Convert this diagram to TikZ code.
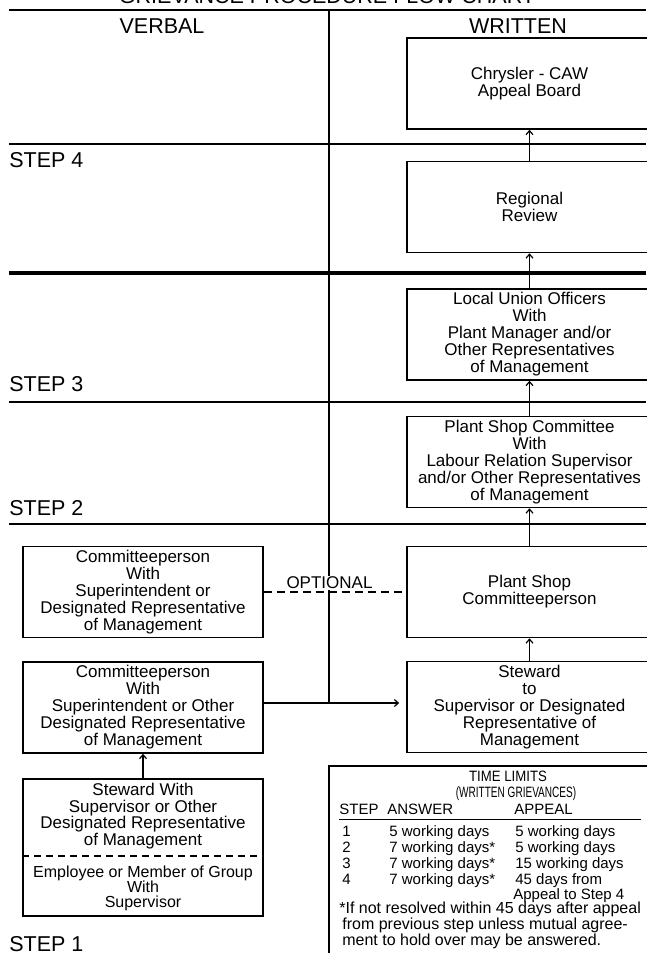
\documentclass[tikz,border=0pt]{standalone}
\usepackage{fontspec}
\setmainfont{Liberation Sans}
\usetikzlibrary{arrows.meta,positioning,calc}
\tikzset{every picture/.style={line width=0.75pt}}

\begin{document}
\begin{tikzpicture}[x=1pt, y=-1pt, >={Straight Barb[length=4pt,width=7pt]},
    box/.style={draw, line width=1.6pt, align=center, inner sep=0pt, minimum height=91pt, font=\fontsize{17}{17}\selectfont},
    rbox/.style={box, minimum width=245pt},
    lbox/.style={box, minimum width=240pt},
    rule/.style={line width=1.6pt},
    big/.style={font=\fontsize{21.5}{24}\selectfont, inner sep=0pt},
    small/.style={font=\fontsize{15}{16}\selectfont, inner sep=0pt, anchor=west, text height=11pt, text depth=3pt},
    up/.style={->, line width=1.2pt}]
    \useasboundingbox (0,0) rectangle (646,953);

    % title and columns
    \node[big, anchor=base] (title) at (327,4) {GRIEVANCE PROCEDURE FLOW CHART};
    \node[big, anchor=base] (verbal) at (162,33) {VERBAL};
    \node[big, anchor=base] (written) at (518,33) {WRITTEN};

    % step rules
    \foreach \y in {10,144,402,524} {
        \draw[rule] (9,\y) -- (646,\y);
    }
    \draw[line width=4pt] (9,273) -- (646,273);
    \foreach \s/\y in {4/167, 3/391, 2/515, 1/951} {
        \node[big, anchor=base west] (step\s) at (9,\y) {STEP \s};
    }

    % divider
    \coordinate (divtop) at (329,10);
    \coordinate (junction) at (329,703);
    \draw[rule] (divtop) -- (junction);

    % written side
    \node[rbox] (chrysler) at (529.5,83.5) {Chrysler - CAW\\Appeal Board};
    \node[rbox] (regional) at (529.5,207) {Regional\\Review};
    \node[rbox] (localunion) at (529.5,334.5) {Local Union Officers\\With\\Plant Manager and/or\\Other Representatives\\of Management};
    \node[rbox] (shopcommittee) at (529.5,462) {Plant Shop Committee\\With\\Labour Relation Supervisor\\and/or Other Representatives\\of Management};
    \node[rbox] (committeeperson) at (529.5,592) {Plant Shop\\Committeeperson};
    \node[rbox] (steward) at (529.5,707) {Steward\\to\\Supervisor or Designated\\Representative of\\Management};

    % verbal side
    \node[lbox] (cpone) at (143,592) {Committeeperson\\With\\Superintendent or\\Designated Representative\\of Management};
    \node[lbox] (cptwo) at (143,707.5) {Committeeperson\\With\\Superintendent or Other\\Designated Representative\\of Management};
    \node[lbox, minimum height=137pt] (stepone) at (143,847.5) {};
    \node[font=\fontsize{17}{16.5}\selectfont, align=center, inner sep=0pt] (stewardwith) at (143,816) {Steward With\\Supervisor or Other\\Designated Representative\\of Management};
    \node[font=\fontsize{16}{15}\selectfont, align=center, inner sep=0pt] (employee) at (143,888) {Employee or Member of Group\\With\\Supervisor};
    \coordinate (split) at (143,856);
    \draw[dashed, dash pattern=on 7pt off 5pt, line width=1.2pt] (stepone.west |- split) -- (stepone.east |- split);

    % optional link
    \node[font=\fontsize{17}{17}\selectfont, fill=white, inner sep=1pt, anchor=south] (optional) at (329.5,590) {OPTIONAL};
    \draw[dash pattern=on 8pt off 5pt, line width=1.4pt] (cpone.east) -- (committeeperson.west);

    % arrows
    \draw[up] (regional.north) -- (chrysler.south);
    \draw[up] (localunion.north) -- (regional.south);
    \draw[up] (shopcommittee.north) -- (localunion.south);
    \draw[up] (committeeperson.north) -- (shopcommittee.south);
    \draw[up] (steward.north) -- (committeeperson.south);
    \draw[up] (stepone.north) -- (cptwo.south);
    \draw[rule] (cptwo.east |- junction) -- (junction);
    \draw[up, shorten >=7pt] (junction) -- (steward.west |- junction);

    % time limits
    \node[draw, line width=1.6pt, minimum width=324pt, minimum height=200pt, anchor=north west, inner sep=0pt] (timebox) at (328,765) {};
    \node[small, anchor=center, xscale=.88] (timetitle) at (508,777) {TIME LIMITS};
    \node[small, anchor=center, xscale=.67] (timesub) at (516,793) {(WRITTEN GRIEVANCES)};
    \node[small] (hstep) at (339,810) {STEP};
    \node[small] (hanswer) at (387,810) {ANSWER};
    \node[small] (happeal) at (514,810) {APPEAL};
    \draw[rule] (hstep.south west) ++(0,2) -- ++(302,0);
    \foreach \n/\ans/\app/\y in {1/5 working days/5 working days/832, 2/7 working days*/5 working days/848, 3/7 working days*/15 working days/864, 4/7 working days*/45 days from/880} {
        \node[small] (num\n) at (342,\y) {\n};
        \node[small] (ans\n) at (389,\y) {\ans};
        \node[small] (app\n) at (515,\y) {\app};
    }
    \node[small] (appealfour) at (513,895) {Appeal to Step 4};
    \node[small, font=\fontsize{16}{16}\selectfont] (noteone) at (339,909) {*If not resolved within 45 days after appeal};
    \node[small, font=\fontsize{16}{16}\selectfont] (notetwo) at (342,925) {from previous step unless mutual agree-};
    \node[small, font=\fontsize{16}{16}\selectfont] (notethree) at (342,941) {ment to hold over may be answered.};
\end{tikzpicture}
\end{document}
